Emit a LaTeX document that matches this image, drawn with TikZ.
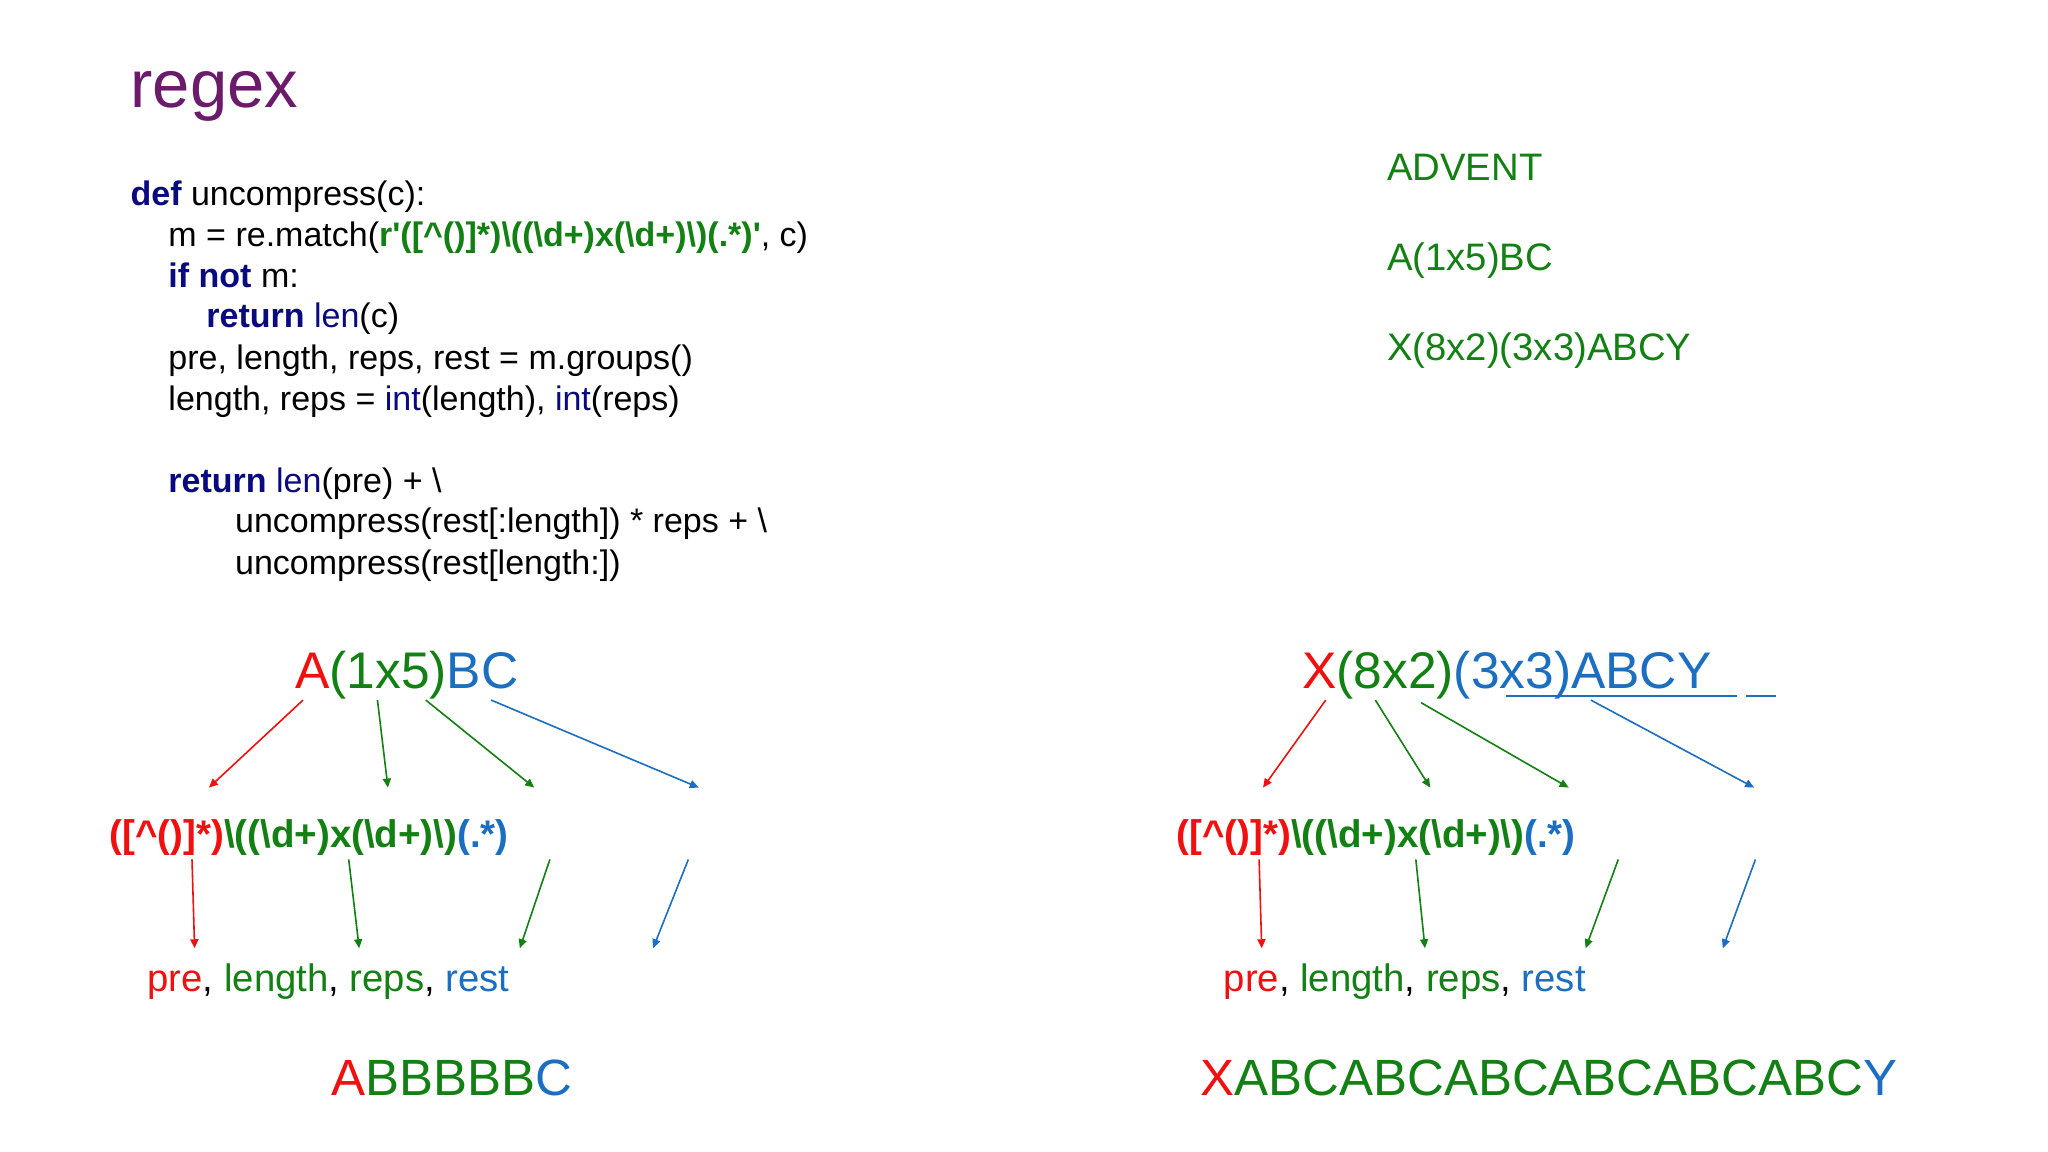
\documentclass[tikz,border=0pt]{standalone}
\usepackage{fontspec}
\setmainfont{Liberation Sans}
\usetikzlibrary{arrows.meta}
\definecolor{rd}{HTML}{F01010}
\definecolor{gr}{HTML}{138013}
\definecolor{bl}{HTML}{1C6FC0}
\definecolor{nv}{HTML}{0A0A80}
\definecolor{pu}{HTML}{6A1B6A}
\newcommand{\bs}{\textbackslash}
\newcommand{\ct}{\textasciicircum}
\newcommand{\rx}{\textbf{\textcolor{rd}{([\ct()]*)}\textcolor{gr}{\bs((\bs d+)x(\bs d+)\bs)}\textcolor{bl}{(.*)}}}
\tikzset{
  t/.style={anchor=base west,inner sep=0pt,outer sep=0pt},
  code/.style={t,font=\fontsize{34}{38}\selectfont},
  side/.style={t,font=\fontsize{38.3}{42}\selectfont,text=gr},
  big/.style={t,font=\fontsize{51.5}{56}\selectfont},
  rxs/.style={t,font=\fontsize{38.5}{42}\selectfont},
  lab/.style={t,font=\fontsize{38.3}{42}\selectfont},
  res/.style={t,font=\fontsize{51}{56}\selectfont},
  ar/.style={-{Triangle[length=9pt,width=8pt]},line width=1.6pt}
}
\newcommand{\kwd}[1]{\textbf{\textcolor{nv}{#1}}}
\newcommand{\fn}[1]{\textcolor{nv}{#1}}
\begin{document}
\begin{tikzpicture}[x=1.306pt,y=-1.306pt]
\useasboundingbox[fill=white] (0,0) rectangle (1568,882);
\node[t,font=\fontsize{67}{72}\selectfont,text=pu] (title) at (100,82) {regex};
\node[code] (c1) at (100,157) {\kwd{def} uncompress(c):};
\node[code] (c2) at (129,189) {m = re.match(\textbf{\textcolor{gr}{r\textquotesingle([\ct()]*)\bs((\bs d+)x(\bs d+)\bs)(.*)\textquotesingle}}, c)};
\node[code] (c3) at (129,220) {\kwd{if not} m:};
\node[code] (c4) at (158,251) {\kwd{return} \fn{len}(c)};
\node[code] (c5) at (129,283) {pre, length, reps, rest = m.groups()};
\node[code] (c6) at (129,314) {length, reps = \fn{int}(length), \fn{int}(reps)};
\node[code] (c7) at (129,377) {\kwd{return} \fn{len}(pre) + \bs};
\node[code] (c8) at (180,408) {uncompress(rest[:length]) * reps + \bs};
\node[code] (c9) at (180,440) {uncompress(rest[length:])};
\node[side] (s1) at (1062,138) {ADVENT};
\node[side] (s2) at (1062,207) {A(1x5)BC};
\node[side] (s3) at (1062,276) {X(8x2)(3x3)ABCY};
% left
\node[big] (la) at (226,527) {\textcolor{rd}{A}\textcolor{gr}{(1x5)}\textcolor{bl}{BC}};
\node[rxs] (lr) at (84,649) {\rx};
\node[lab] (lp) at (113,759) {\textcolor{rd}{pre}, \textcolor{gr}{length}, \textcolor{gr}{reps}, \textcolor{bl}{rest}};
\node[res] (lo) at (254,839) {\textcolor{rd}{A}\textcolor{gr}{BBBBB}\textcolor{bl}{C}};
% right
\node[big] (ra) at (997,527) {\textcolor{rd}{X}\textcolor{gr}{(8x2)}\textcolor{bl}{(3x3)ABCY}};
\node[rxs] (rr) at (901,649) {\rx};
\node[lab] (rp) at (937,759) {\textcolor{rd}{pre}, \textcolor{gr}{length}, \textcolor{gr}{reps}, \textcolor{bl}{rest}};
\node[res] (ro) at (919,839) {\textcolor{rd}{X}\textcolor{gr}{ABCABCABCABCABCABC}\textcolor{bl}{Y}};
% coordinates
\foreach \n/\x/\y in {a1/232/536,b1/160/603,a2/289/536,b2/297/603,a3/326/536,b3/409/603,a4/376/536,b4/535/603,
 c1/147/658,d1/149/726,c2/267/658,d2/275/726,c3/421/658,d3/398/726,c4/527/658,d4/500/726,
 e1/1015/536,f1/967/603,e2/1053/536,f2/1095/603,e3/1088/538,f3/1201/603,e4/1218/536,f4/1343/603,
 g1/964/658,h1/966/726,g2/1084/658,h2/1091/726,g3/1239/658,h3/1214/726,g4/1344/658,h4/1319/726,
 u1/1153/533,u2/1330/533,u3/1337/533,u4/1360/533}
 {\coordinate (\n) at (\x,\y);}
\draw[ar,rd] (a1)--(b1); \draw[ar,gr] (a2)--(b2); \draw[ar,gr] (a3)--(b3); \draw[ar,bl] (a4)--(b4);
\draw[ar,rd] (c1)--(d1); \draw[ar,gr] (c2)--(d2); \draw[ar,gr] (c3)--(d3); \draw[ar,bl] (c4)--(d4);
\draw[ar,rd] (e1)--(f1); \draw[ar,gr] (e2)--(f2); \draw[ar,gr] (e3)--(f3); \draw[ar,bl] (e4)--(f4);
\draw[ar,rd] (g1)--(h1); \draw[ar,gr] (g2)--(h2); \draw[ar,gr] (g3)--(h3); \draw[ar,bl] (g4)--(h4);
\draw[bl,line width=2.6pt] (u1)--(u2) (u3)--(u4);
\end{tikzpicture}
\end{document}
